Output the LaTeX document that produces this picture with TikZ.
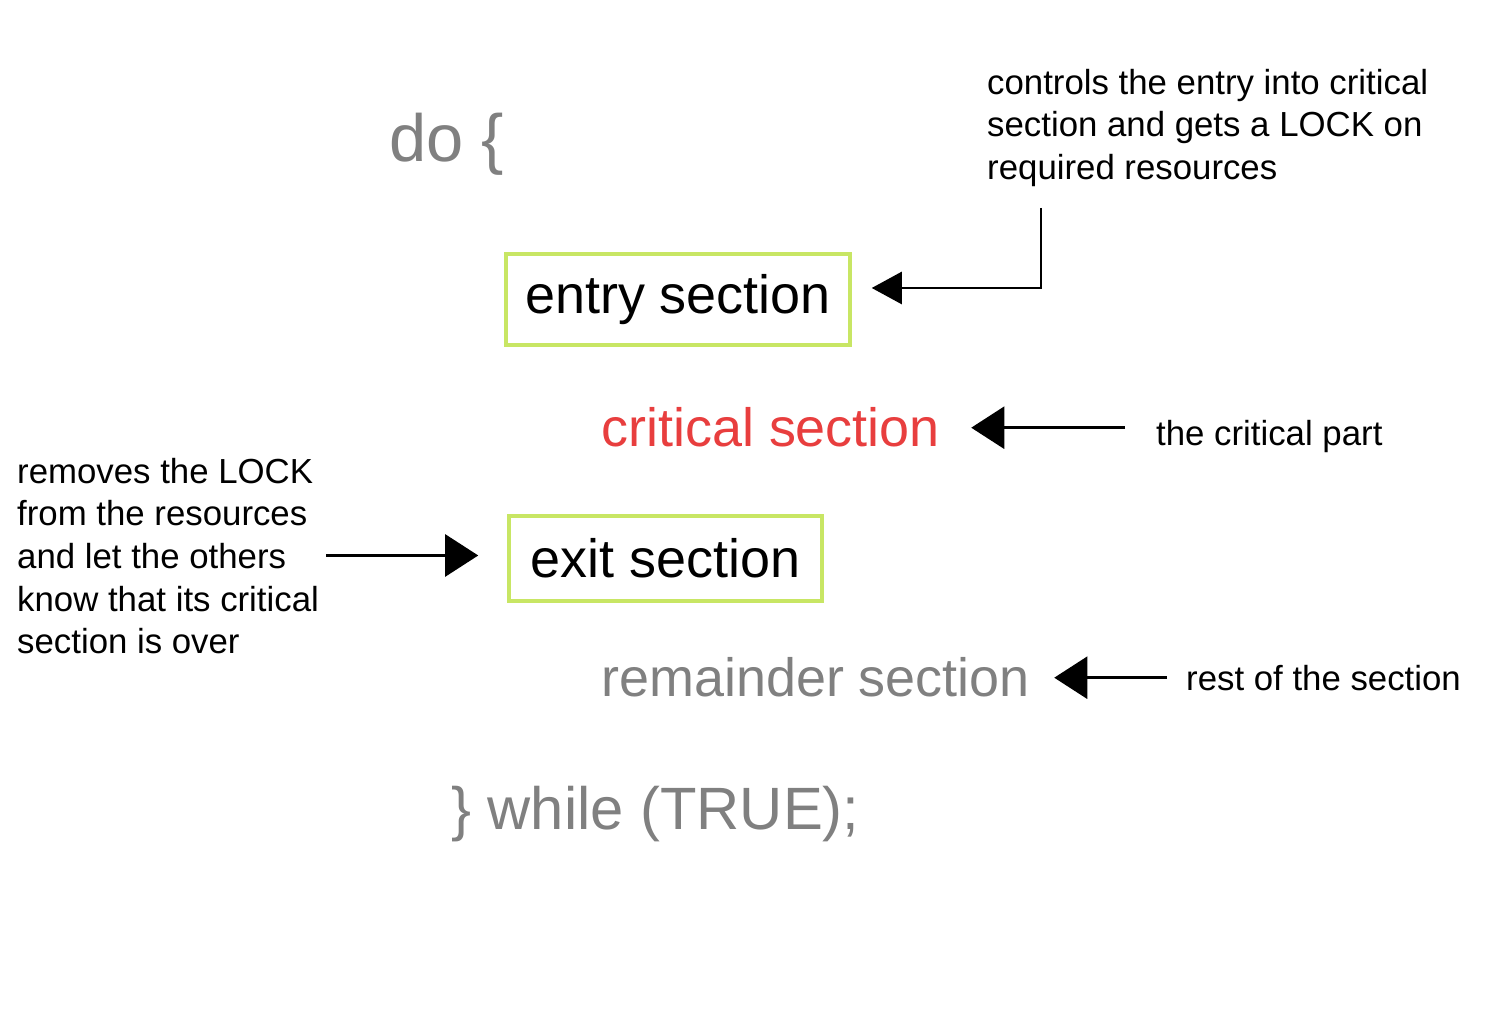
\documentclass[tikz,border=0pt]{standalone}
\usepackage{fontspec}
\setmainfont{Liberation Sans}
\usetikzlibrary{arrows.meta}

\definecolor{codegray}{RGB}{128,128,128}
\definecolor{critred}{RGB}{232,62,62}
\definecolor{boxgreen}{RGB}{200,230,100}

\begin{document}
\begin{tikzpicture}[>={Triangle[length=0.33cm,width=0.42cm]},line width=0.7pt,
  box/.style={draw=boxgreen,line width=1pt,minimum width=3.44cm,minimum height=0.91cm,
    inner sep=0pt,font=\fontsize{15.35pt}{18pt}\selectfont},
  code/.style={anchor=base west,inner sep=0pt,text=codegray,
    font=\fontsize{15.35pt}{18pt}\selectfont},
  note/.style={inner sep=0pt,align=left,font=\fontsize{9.9pt}{12.1pt}\selectfont}]

\useasboundingbox (0,0) rectangle (14.88,10.16);

% Schleife: Kopf
\node (do) at (3.88,8.54) [code,font=\fontsize{19pt}{22pt}\selectfont] {do \{};

% Abschnitte
\node (entry) at (6.78,7.165) [box] {entry section};
\node (crit) at (6.00,5.69) [code,text=critred] {critical section};
\node (exit) at (6.655,4.575) [box,minimum width=3.13cm,minimum height=0.85cm] {exit section};
\node (rem) at (6.00,3.19) [code] {remainder section};

% Schleife: Ende
\node (while) at (4.50,1.86) [code,font=\fontsize{17pt}{20pt}\selectfont] {\} while (TRUE);};

% Erklaerungen
\node (enote) at (9.86,9.48) [note,anchor=north west]
  {controls the entry into critical\\section and gets a LOCK on\\required resources};
\node (cnote) at (11.55,5.70) [note,anchor=base west] {the critical part};
\node (lnote) at (0.16,5.59) [note,anchor=north west]
  {removes the LOCK\\from the resources\\and let the others\\know that its critical\\section is over};
\node (rnote) at (11.85,3.25) [note,anchor=base west] {rest of the section};

% Pfeile
\coordinate (ebend) at (10.41,7.28);
\draw[->,>={Triangle[length=0.3cm,width=0.32cm]},shorten <=0.2cm,shorten >=0.2cm]
  (enote.south -| ebend) -- (ebend) -- (ebend -| entry.east);
\draw[->,shorten <=0.30cm,shorten >=0.30cm] (crit.east -| cnote.west) -- (crit.east);
\draw[->,shorten <=0.06cm,shorten >=0.29cm] ([yshift=0.03cm]exit.west -| lnote.east) -- ([yshift=0.03cm]exit.west);
\draw[->,shorten <=0.18cm,shorten >=0.23cm] (rem.east -| rnote.west) -- (rem.east);

\end{tikzpicture}
\end{document}
